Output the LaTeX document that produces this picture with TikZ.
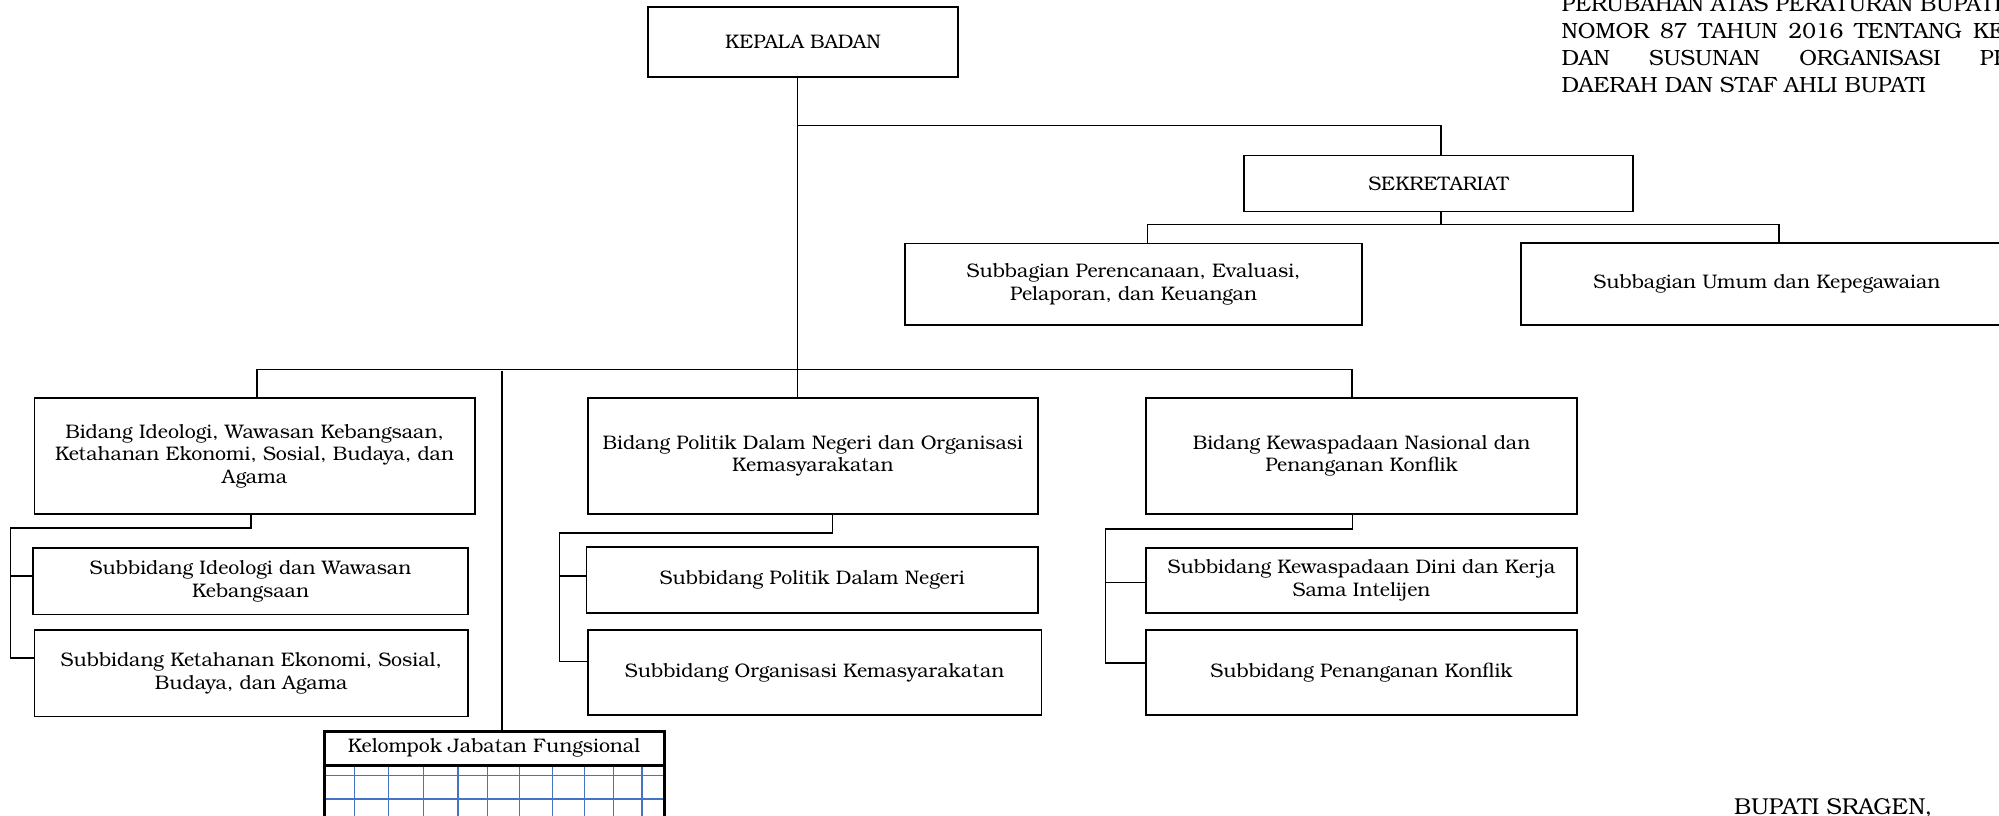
\documentclass[tikz,border=0pt]{standalone}
\usepackage{fontspec}
\setmainfont{TeX Gyre Bonum}
\newcommand\fs{\fontsize{9.8}{11.3}\selectfont}
\newcommand\fsb{\fontsize{11}{13.3}\selectfont}
\tikzset{
  box/.style={draw, line width=0.8pt, inner sep=2pt, outer sep=0pt, align=center, font=\fs},
  conn/.style={line width=0.6pt},
  gridln/.style={line width=0.6pt, draw={rgb,255:red,68;green,114;blue,196}},
  plain/.style={inner sep=0pt, outer sep=0pt, font=\fsb, anchor=base west},
}
\newcommand\bx[7][]{\node[box,#1, minimum width={(#5-#3)*0.5pt}, minimum height={(#6-#4)*0.5pt}] (#2) at ({(#3+#5)/2},{(#4+#6)/2}) {#7};}
\begin{document}
\begin{tikzpicture}[x=0.5pt,y=-0.5pt]
\useasboundingbox (0,0) rectangle (1999,815);
% boxes
\bx{kepala}{648}{7}{958}{77}{KEPALA BADAN}
\bx{sekre}{1244}{155.5}{1633}{211.6}{SEKRETARIAT}
\bx{perenc}{905}{243.5}{1362}{325}{Subbagian Perencanaan, Evaluasi,\\Pelaporan, dan Keuangan}
\bx{umum}{1520.7}{242.7}{2013}{325}{Subbagian Umum dan Kepegawaian}
\bx{ideo}{34.4}{398}{474.7}{514}{Bidang Ideologi, Wawasan Kebangsaan,\\Ketahanan Ekonomi, Sosial, Budaya, dan\\Agama}
\bx{politik}{587.7}{398}{1038}{514}{Bidang Politik Dalam Negeri dan Organisasi\\Kemasyarakatan}
\bx{kewas}{1146}{398}{1577}{514}{Bidang Kewaspadaan Nasional dan\\Penanganan Konflik}
\bx{sia}{33}{548}{468}{614.5}{Subbidang Ideologi dan Wawasan\\Kebangsaan}
\bx{sib}{34.4}{630}{468}{716.5}{Subbidang Ketahanan Ekonomi, Sosial,\\Budaya, dan Agama}
\bx{spa}{586.5}{547}{1038}{613}{Subbidang Politik Dalam Negeri}
\bx{spb}{587.7}{630}{1041.6}{715}{Subbidang Organisasi Kemasyarakatan}
\bx{ska}{1146}{548}{1577}{613}{Subbidang Kewaspadaan Dini dan Kerja\\Sama Intelijen}
\bx{skb}{1146}{630}{1577}{715}{Subbidang Penanganan Konflik}
% kelompok jabatan fungsional with grid
\foreach \gy in {775.7,799} \draw[gridln] (324,\gy) -- (664,\gy);
\foreach \gx in {354.3,388.3,423.3,458,487.7,519.3,552.3,584.3,613.3,642} \draw[gridln] (\gx,765) -- (\gx,820);
\bx[line width=1.5pt]{kel}{324}{731}{664}{765}{Kelompok Jabatan Fungsional}
\draw[line width=1.5pt] (kel.south west) -- ++(0,60);
\draw[line width=1.5pt] (kel.south east) -- ++(0,60);
% connectors
\coordinate (jk) at (797.7,125.7);
\draw[conn] (kepala.south -| jk) -- (politik.north -| jk);
\coordinate (jsk) at (1441,125.7);
\draw[conn] (jk) -- (jsk) -- (jsk |- sekre.north);
\coordinate (js) at (1441,224.4);
\coordinate (jp) at (1147.5,224.4);
\coordinate (ju) at (1779,224.4);
\draw[conn] (js |- sekre.south) -- (js);
\draw[conn] (jp |- perenc.north) -- (jp) -- (ju) -- (ju |- umum.north);
\coordinate (ml) at (257,369.5);
\coordinate (mr) at (1352,369.5);
\draw[conn] (ml |- ideo.north) -- (ml) -- (mr) -- (mr |- kewas.north);
\coordinate (jf) at (502,370.5);
\draw[conn] (jf) -- (jf |- kel.north);
% ideologi subtree
\coordinate (ia) at (251,528);
\coordinate (ib) at (10.2,528);
\coordinate (ic1) at (10.2,576);
\coordinate (ic2) at (10.2,658);
\draw[conn] (ia |- ideo.south) -- (ia) -- (ib) -- (ic2) -- (ic2 -| sib.west);
\draw[conn] (ic1) -- (ic1 -| sia.west);
% politik subtree
\coordinate (pa) at (832.5,533);
\coordinate (pb) at (559.7,533);
\coordinate (pc1) at (559.7,576);
\coordinate (pc2) at (559.7,661.7);
\draw[conn] (pa |- politik.south) -- (pa) -- (pb) -- (pc2) -- (pc2 -| spb.west);
\draw[conn] (pc1) -- (pc1 -| spa.west);
% kewaspadaan subtree
\coordinate (ka) at (1352.7,529);
\coordinate (kb) at (1105.4,529);
\coordinate (kc1) at (1105.4,582.6);
\coordinate (kc2) at (1105.4,663);
\draw[conn] (ka |- kewas.south) -- (ka) -- (kb) -- (kc2) -- (kc2 -| skb.west);
\draw[conn] (kc1) -- (kc1 -| ska.west);
% top-right text
\node[plain] (t1) at (1561.7,11.6) {PERUBAHAN ATAS PERATURAN BUPATI};
\node[plain] (t2) at (1561.7,38.3) {\hbox to 205.65pt{NOMOR\hfill 87\hfill TAHUN\hfill 2016\hfill TENTANG\hfill\rlap{KED}}};
\node[plain] (t3) at (1561.7,65) {\hbox to 209.15pt{DAN\hfill SUSUNAN\hfill ORGANISASI\hfill\rlap{PE}}};
\node[plain] (t4) at (1561.7,92) {DAERAH DAN STAF AHLI BUPATI};
\node[plain, font=\fontsize{11.5}{13}\selectfont] (bs) at (1734,814) {BUPATI SRAGEN,};
\end{tikzpicture}
\end{document}
